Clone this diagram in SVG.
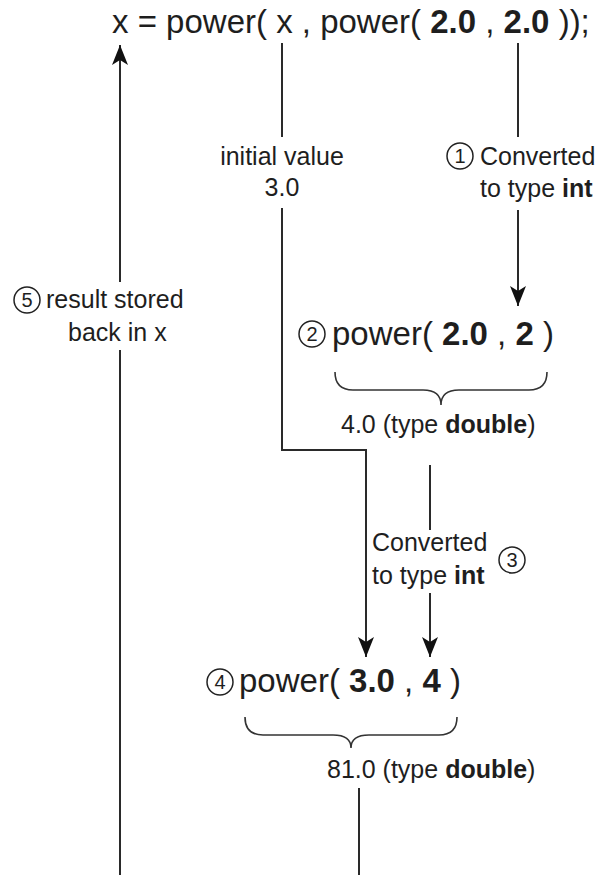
<svg xmlns="http://www.w3.org/2000/svg" width="600" height="875" viewBox="0 0 600 875">
<style>
text{font-family:"Liberation Sans",Arial,sans-serif;fill:#1e1e1e}
.code{font-size:33px}
.lbl{font-size:25px}
.b{font-weight:bold}
.ln{stroke:#2a2a2a;stroke-width:2;fill:none}
.brace{stroke:#333;stroke-width:1.6;fill:none}
.num{fill:none;stroke:#222;stroke-width:1.5}
.numt{font-size:20px;text-anchor:middle}
</style>
<defs>
<marker id="ah" markerWidth="20" markerHeight="16" refX="20" refY="8" orient="auto" markerUnits="userSpaceOnUse" viewBox="0 0 20 16">
<path d="M0,0 L5,8 L0,16 L20,8 Z" fill="#111"/>
</marker>
</defs>
<g id="connectors">
<path class="ln" d="M120,875 V350"/>
<path class="ln" d="M120,282 V45" marker-end="url(#ah)"/>
<path class="ln" d="M282,43 V137"/>
<path class="ln" d="M282,208 V450 H366 V657" marker-end="url(#ah)"/>
<path class="ln" d="M518,43 V137"/>
<path class="ln" d="M518,210 V306" marker-end="url(#ah)"/>
<path class="ln" d="M430,465 V530"/>
<path class="ln" d="M430,593 V657" marker-end="url(#ah)"/>
<path class="ln" d="M359,788 V875"/>
</g>
<g id="statement">
<text class="code" x="112" y="33">x = power( x , power( <tspan class="b">2.0</tspan> , <tspan class="b">2.0</tspan> ));</text>
</g>
<g id="label-initial">
<text class="lbl" x="282" y="165" text-anchor="middle">initial value</text>
<text class="lbl" x="282" y="196" text-anchor="middle">3.0</text>
</g>
<g id="label-1">
<circle class="num" cx="460" cy="156" r="13"/>
<text class="numt" x="460" y="163">1</text>
<text class="lbl" x="480" y="165">Converted</text>
<text class="lbl" x="480" y="197">to type <tspan class="b">int</tspan></text>
</g>
<g id="label-5">
<circle class="num" cx="27" cy="300" r="13"/>
<text class="numt" x="27" y="307">5</text>
<text class="lbl" x="46" y="308">result stored</text>
<text class="lbl" x="68" y="341">back in x</text>
</g>
<g id="call-2">
<circle class="num" cx="312" cy="334" r="13"/>
<text class="numt" x="312" y="341">2</text>
<text class="code" x="332" y="345">power( <tspan class="b">2.0</tspan> , <tspan class="b">2</tspan> )</text>
<path class="brace" d="M335,372 Q335,390 353,390 L423,390 Q441,390 441,405 Q441,390 459,390 L529,390 Q547,390 547,372"/>
<text class="lbl" x="341" y="433">4.0 (type <tspan class="b">double</tspan>)</text>
</g>
<g id="label-3">
<text class="lbl" x="372" y="551">Converted</text>
<text class="lbl" x="372" y="584">to type <tspan class="b">int</tspan></text>
<circle class="num" cx="512" cy="560" r="13"/>
<text class="numt" x="512" y="567">3</text>
</g>
<g id="call-4">
<circle class="num" cx="220" cy="682" r="13"/>
<text class="numt" x="220" y="689">4</text>
<text class="code" x="239" y="692">power( <tspan class="b">3.0</tspan> , <tspan class="b">4</tspan> )</text>
<path class="brace" d="M245,717 Q245,735 263,735 L333,735 Q351,735 351,748 Q351,735 369,735 L439,735 Q457,735 457,717"/>
<text class="lbl" x="327" y="778">81.0 (type <tspan class="b">double</tspan>)</text>
</g>
</svg>
